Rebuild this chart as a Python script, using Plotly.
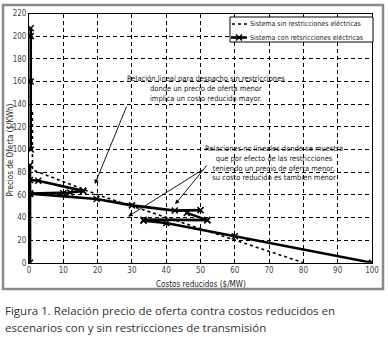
import plotly.graph_objects as go

# --- data ---
sin_x = [1, 1, 20, 40, 60, 80]
sin_y = [133, 82, 60, 40, 20, 0]

# "con restricciones" polyline segments (None = break)
con_x = [0.3, 0.3, 0.3, None,
         0.5, 0.5, 0.5, 0.5, None,
         0.3, 2.7, 15.8, None,
         0.3, 10, 12, 15.8, None,
         0.3, 19.7, 30, 42.5, 50, None,
         46, 52, None,
         33.4, 52, None,
         33.4, 40, 60, 100]
con_y = [0, 61, 86, None,
         100, 160, 200, 207, None,
         73, 72.3, 63.4, None,
         61, 61.3, 62, 63.4, None,
         61, 56.3, 50.6, 46, 46.4, None,
         44, 37.6, None,
         38, 37.6, None,
         37, 35, 23.3, 0]

x_ticks = list(range(0, 101, 10))
y_ticks = list(range(0, 221, 20))

legend_names = ["Sistema sin restricciones eléctricas",
                "Sistema con retsricciones eléctricas"]

note1 = ("Relación lineal para despacho sin restricciones<br>"
         "donde un precio de oferta menor<br>"
         "implica un costo reducido mayor.")
note2 = ("Relaciones no lineales donde se muestra<br>"
         "que por efecto de las restricciones<br>"
         "teniendo un precio de oferta menor,<br>"
         "su costo reducido es tambien menor")
caption1 = "Figura 1. Relación precio de oferta contra costos reducidos en"
caption2 = "escenarios con y sin restricciones de transmisión"

FONT = "Liberation Sans Narrow, Arial Narrow, DejaVu Sans Condensed, Liberation Sans, sans-serif"

W, H = 388, 339
px0, px1 = 29, 372
py_top, py_bot = 13.5, 262.7


def px(x):
    return x / W


def py(y):
    return 1 - y / H


fig = go.Figure()
fig.add_trace(go.Scatter(x=sin_x, y=sin_y, mode="lines", name=legend_names[0],
                         showlegend=False,
                         line=dict(color="black", width=1.6, dash="dot")))
fig.add_trace(go.Scatter(x=con_x, y=con_y, mode="lines+markers", name=legend_names[1],
                         showlegend=False, connectgaps=False,
                         line=dict(color="black", width=2.6),
                         marker=dict(symbol="x-thin-open", size=6, color="black",
                                     line=dict(color="black", width=1.5))))

axis_common = dict(showline=True, linecolor="black", linewidth=1, mirror=True,
                   showgrid=True, gridcolor="black", gridwidth=1, griddash="4px,3px",
                   zeroline=False, ticks="inside", ticklen=3, tickcolor="black",
                   automargin=False,
                   tickfont=dict(family=FONT, size=8, color="#444"))

# legend box (drawn by hand to match the compact MATLAB legend)
leg_x0, leg_x1, leg_y0, leg_y1 = 230, 373, 17, 42
row1, row2 = 24, 37.5
shapes = [
    dict(type="rect", xref="paper", yref="paper",
         x0=px(3), x1=px(383), y0=py(289), y1=py(5),
         line=dict(color="#8a8a8a", width=2.5), layer="below"),
    dict(type="rect", xref="paper", yref="paper",
         x0=px(leg_x0), x1=px(leg_x1), y0=py(leg_y1), y1=py(leg_y0),
         line=dict(color="black", width=1), fillcolor="white", layer="above"),
    dict(type="line", xref="paper", yref="paper",
         x0=px(232), x1=px(247), y0=py(row1), y1=py(row1),
         line=dict(color="black", width=1.6, dash="dot")),
    dict(type="line", xref="paper", yref="paper",
         x0=px(231), x1=px(247), y0=py(row2), y1=py(row2),
         line=dict(color="black", width=2.6)),
    dict(type="line", xref="paper", yref="paper",
         x0=px(236), x1=px(242), y0=py(row2 - 3), y1=py(row2 + 3),
         line=dict(color="black", width=1.5)),
    dict(type="line", xref="paper", yref="paper",
         x0=px(236), x1=px(242), y0=py(row2 + 3), y1=py(row2 - 3),
         line=dict(color="black", width=1.5)),
]

fig.update_layout(
    width=W, height=H, margin=dict(l=0, r=0, t=0, b=0, autoexpand=False),
    paper_bgcolor="white", plot_bgcolor="white",
    showlegend=False,
    xaxis=dict(range=[0, 100], tickvals=x_ticks, domain=[px(px0), px(px1)],
               **axis_common),
    yaxis=dict(range=[0, 220], tickvals=y_ticks,
               domain=[py(py_bot), py(py_top)], **axis_common),
    shapes=shapes,
)

annotations = [
    dict(text=legend_names[0], xref="paper", yref="paper", x=px(248), y=py(row1),
         xanchor="left", yanchor="middle", showarrow=False,
         font=dict(family=FONT, size=7, color="#222")),
    dict(text=legend_names[1], xref="paper", yref="paper", x=px(248), y=py(row2),
         xanchor="left", yanchor="middle", showarrow=False,
         font=dict(family=FONT, size=7, color="#222")),
    dict(text="Costos reducidos ($/MW)", xref="paper", yref="paper",
         x=px((px0 + px1) / 2), y=py(284), showarrow=False,
         xanchor="center", yanchor="middle",
         font=dict(family=FONT, size=8, color="#222")),
    dict(text="Precios de Oferta ($/KWh)", xref="paper", yref="paper",
         x=px(9.5), y=py(150), showarrow=False, textangle=-90,
         xanchor="center", yanchor="middle",
         font=dict(family=FONT, size=8, color="#222")),
    dict(text=note1, xref="x", yref="y", x=(206 - px0) / 3.43, y=(py_bot - 90) / 1.12,
         showarrow=False, align="center", xanchor="center", yanchor="middle",
         font=dict(family=FONT, size=7.5, color="#222")),
    dict(text=note2, xref="x", yref="y", x=(274 - px0) / 3.43, y=(py_bot - 164) / 1.12,
         showarrow=False, align="center", xanchor="center", yanchor="middle",
         font=dict(family=FONT, size=7.5, color="#222")),
    # arrows
    dict(x=19.2, y=69.4, ax=28.6, ay=139, xref="x", yref="y", axref="x", ayref="y",
         text="", showarrow=True, arrowhead=2, arrowsize=1, arrowwidth=0.9,
         arrowcolor="black"),
    dict(x=28.9, y=40.8, ax=51.0, ay=82.8, xref="x", yref="y", axref="x", ayref="y",
         text="", showarrow=True, arrowhead=2, arrowsize=1, arrowwidth=0.9,
         arrowcolor="black"),
    dict(x=42.6, y=51.5, ax=52.2, ay=87.2, xref="x", yref="y", axref="x", ayref="y",
         text="", showarrow=True, arrowhead=2, arrowsize=1, arrowwidth=0.9,
         arrowcolor="black"),
    dict(text=caption1, xref="paper", yref="paper", x=px(3), y=py(310),
         xanchor="left", yanchor="middle", align="left", showarrow=False,
         font=dict(family="Open Sans, sans-serif", size=11.5, color="#333")),
    dict(text=caption2, xref="paper", yref="paper", x=px(3), y=py(327),
         xanchor="left", yanchor="middle", align="left", showarrow=False,
         font=dict(family="Open Sans, sans-serif", size=11.5, color="#333")),
]
fig.update_layout(annotations=annotations)

fig.write_html("out.html", config={"displayModeBar": False},
               post_script="document.body.style.margin='0';document.body.style.overflow='hidden';")
